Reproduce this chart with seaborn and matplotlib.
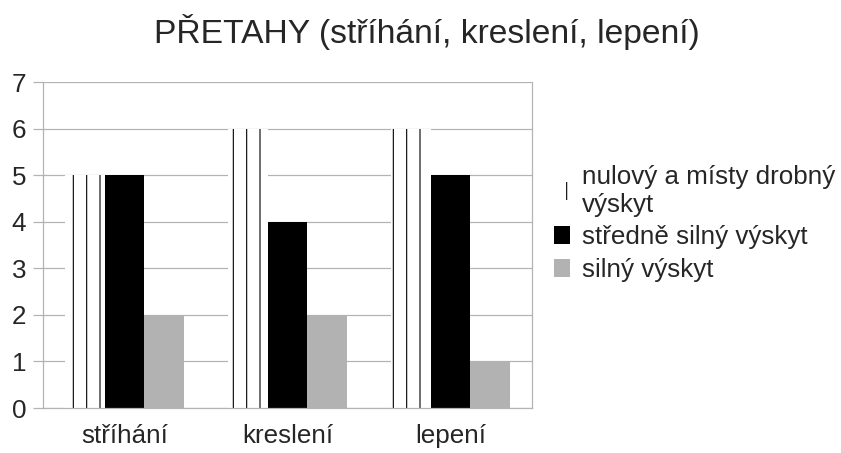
import pandas as pd
import numpy as np
import matplotlib
matplotlib.use("Agg")
import matplotlib.pyplot as plt
import seaborn as sns

# data
categories = ["stříhání", "kreslení", "lepení"]
series_names = ["nulový a místy drobný\nvýskyt", "středně silný výskyt", "silný výskyt"]
nulovy = [5, 6, 6]
stredne = [5, 4, 5]
silny = [2, 2, 1]

colors = ["white", "black", "#b2b2b2"]
grid_gray = "#b3b3b3"

df = pd.DataFrame({
	"kategorie": categories * 3,
	"vyskyt": [series_names[0]] * 3 + [series_names[1]] * 3 + [series_names[2]] * 3,
	"pocet": nulovy + stredne + silny,
})

sns.set_style("white")
plt.rcParams["font.family"] = ["Liberation Sans", "DejaVu Sans"]
plt.rcParams["hatch.linewidth"] = 1.0

DPI = 80
fig = plt.figure(figsize=(841 / DPI, 453 / DPI), dpi=DPI)
ax = fig.add_axes([43 / 841, 1 - 408 / 453, (532 - 43) / 841, (408 - 82) / 453])

sns.barplot(data=df, x="kategorie", y="pocet", hue="vyskyt",
	hue_order=series_names, order=categories,
	palette=colors, saturation=1, width=0.736, gap=0,
	linewidth=0, legend=False, ax=ax)

# white series drawn as vertical hatch lines only
for p in ax.containers[0]:
	p.set_hatch("|")
	p.set_edgecolor("black")
	p.set_linewidth(0)

ax.set_ylim(0, 7)
ax.set_xlim(-0.5, 2.5)
ax.set_yticks(range(0, 8))
ax.yaxis.grid(True, color=grid_gray, linewidth=1.1)
ax.set_axisbelow(True)
ax.set_xlabel("")
ax.set_ylabel("")

for side in ["left", "right", "bottom"]:
	ax.spines[side].set_color(grid_gray)
	ax.spines[side].set_linewidth(1.1)
ax.spines["top"].set_visible(False)

ax.set_xticks([-0.5, 0.5, 1.5, 2.5], minor=True)
ax.tick_params(axis="x", which="major", length=0, pad=14, labelsize=23.4)
ax.tick_params(axis="x", which="minor", length=9, width=1.1, color=grid_gray, direction="out")
ax.tick_params(axis="y", length=9, width=1.1, color=grid_gray, pad=6, labelsize=23.4, left=True)

fig.text(427 / 841, 1 - 43 / 453, "PŘETAHY (stříhání, kreslení, lepení)",
	ha="center", va="baseline", fontsize=30.3)

fig.legend(handles=list(ax.containers), labels=series_names,
	loc="upper left", bbox_to_anchor=(554 / 841, 1 - 165 / 453),
	frameon=False, fontsize=23.4, handlelength=0.62, handleheight=0.7,
	handletextpad=0.45, labelspacing=0.33, borderpad=0, borderaxespad=0)

plt.savefig("out.png", dpi=DPI)
